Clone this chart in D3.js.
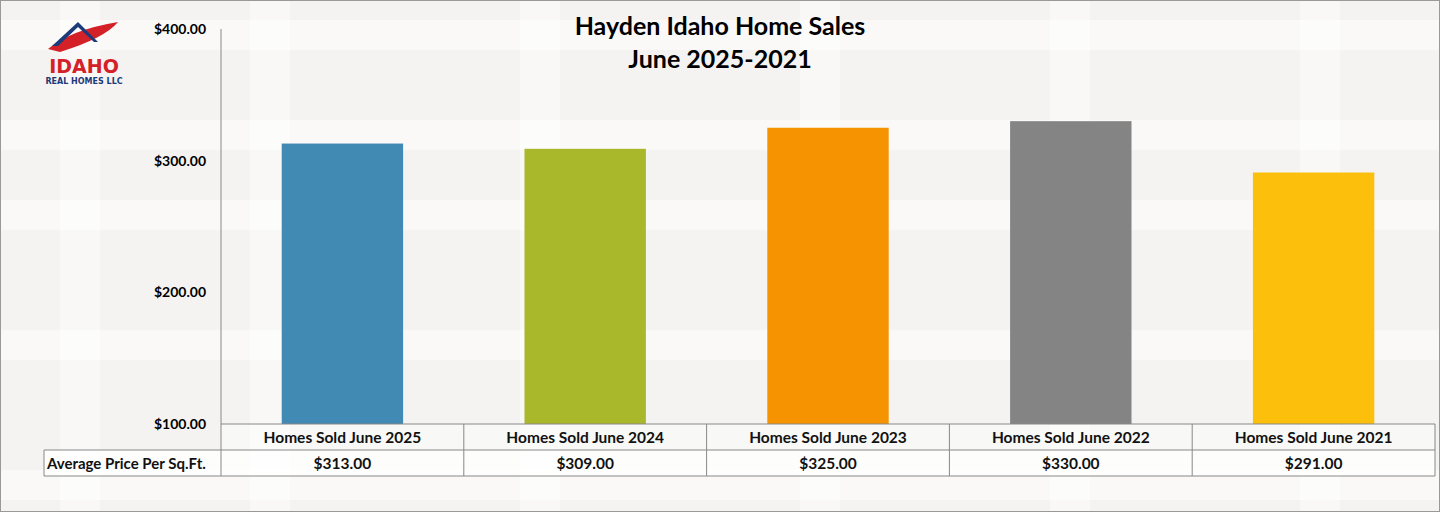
<!DOCTYPE html>
<html><head><meta charset="utf-8">
<script src="https://cdn.jsdelivr.net/npm/d3@7/dist/d3.min.js"></script>
<style>body{margin:0;background:#f5f4f2}svg{display:block}</style>
</head><body>
<svg id="c" width="1440" height="512"></svg>
<script>
const categories = ["Homes Sold June 2025","Homes Sold June 2024","Homes Sold June 2023","Homes Sold June 2022","Homes Sold June 2021"];
const values = [313,309,325,330,291];
const colors = ["#418ab4","#a8b82a","#f59300","#848484","#fbbf0c"];
const yTicks = [100,200,300,400];
const rowLabel = "Average Price Per Sq.Ft.";

const svg = d3.select("#c");
const F = "Lato, 'Open Sans', sans-serif";
svg.append("rect").attr("width",1440).attr("height",512).attr("fill","#f4f3f1");
const bands = [20,120,200,330,470];
bands.forEach(b=>svg.append("rect").attr("x",0).attr("y",b).attr("width",1440).attr("height",30).attr("fill","#fff").attr("opacity",0.5));
[60,250,520,800,1050,1300].forEach(b=>svg.append("rect").attr("x",b).attr("y",0).attr("width",40).attr("height",512).attr("fill","#fff").attr("opacity",0.45));
svg.append("rect").attr("x",0.5).attr("y",0.5).attr("width",1439).attr("height",511).attr("fill","none").attr("stroke","#999");

const L=221,R=1435,T=29,B=424;
const x = d3.scaleBand().domain(categories).range([L,R]).paddingInner(0).paddingOuter(0);
const y = d3.scaleLinear().domain([100,400]).range([B,T]);
const bw = x.bandwidth()*0.5;

svg.selectAll(".bar").data(values).join("rect")
 .attr("x",(d,i)=>x(categories[i])+(x.bandwidth()-bw)/2)
 .attr("y",d=>y(d)).attr("width",bw).attr("height",d=>B-y(d))
 .attr("fill",(d,i)=>colors[i]);

svg.append("line").attr("x1",L).attr("x2",L).attr("y1",T).attr("y2",B).attr("stroke","#888");
yTicks.forEach(t=>svg.append("text").attr("x",206).attr("y",y(t)+5).attr("text-anchor","end")
 .attr("font-family",F).attr("font-weight","bold").attr("font-size",14).text("$"+t.toFixed(2)));

const g = svg.append("g").attr("font-family",F).attr("font-weight","bold").attr("fill","#111");
const rh=26;
g.append("rect").attr("x",44).attr("y",B+rh).attr("width",R-44).attr("height",rh).attr("fill","#fff").attr("opacity",0.8);
g.append("rect").attr("x",L).attr("y",B).attr("width",R-L).attr("height",rh).attr("fill","#fff").attr("opacity",0.4);
const ln=(x1,y1,x2,y2)=>g.append("line").attr("x1",x1).attr("y1",y1).attr("x2",x2).attr("y2",y2).attr("stroke","#888");
ln(L,B,R,B); ln(44,B+rh,R,B+rh); ln(44,B+2*rh,R,B+2*rh); ln(44,B+rh,44,B+2*rh);
categories.forEach((c,i)=>{ln(x(c),B,x(c),B+2*rh);});
ln(R,B,R,B+2*rh);
categories.forEach((c,i)=>{
 g.append("text").attr("x",x(c)+x.bandwidth()/2).attr("y",B+19).attr("text-anchor","middle").attr("font-size",15.5).text(c);
 g.append("text").attr("x",x(c)+x.bandwidth()/2).attr("y",B+rh+19).attr("text-anchor","middle").attr("font-size",15.5).text("$"+values[i].toFixed(2));
});
g.append("text").attr("x",47).attr("y",B+rh+19).attr("font-size",15).text(rowLabel);

svg.append("text").attr("x",720).attr("y",35).attr("text-anchor","middle").attr("font-family",F).attr("font-weight","bold").attr("font-size",25).text("Hayden Idaho Home Sales");
svg.append("text").attr("x",720).attr("y",68).attr("text-anchor","middle").attr("font-family",F).attr("font-weight","bold").attr("font-size",25).text("June 2025-2021");

const lg = svg.append("g");
lg.append("path").attr("d","M48,49 Q70,30 118,22 Q105,38 60,52 Z").attr("fill","#d42027");
lg.append("path").attr("d","M52,46 L78,22 L98,42 L94,42 L78,27 L58,46 Z").attr("fill","#1d3a7a");
lg.append("rect").attr("x",74).attr("y",35).attr("width",6).attr("height",6).attr("fill","#d42027");
lg.append("text").attr("x",84).attr("y",73).attr("text-anchor","middle").attr("font-family","'DejaVu Sans',sans-serif").attr("font-weight","bold").attr("font-size",19).attr("fill","#d42027").text("IDAHO");
lg.append("text").attr("x",84).attr("y",84).attr("text-anchor","middle").attr("font-family","'DejaVu Sans',sans-serif").attr("font-weight","bold").attr("font-size",8).attr("fill","#1d3a7a").text("REAL HOMES LLC");
</script>
</body></html>
